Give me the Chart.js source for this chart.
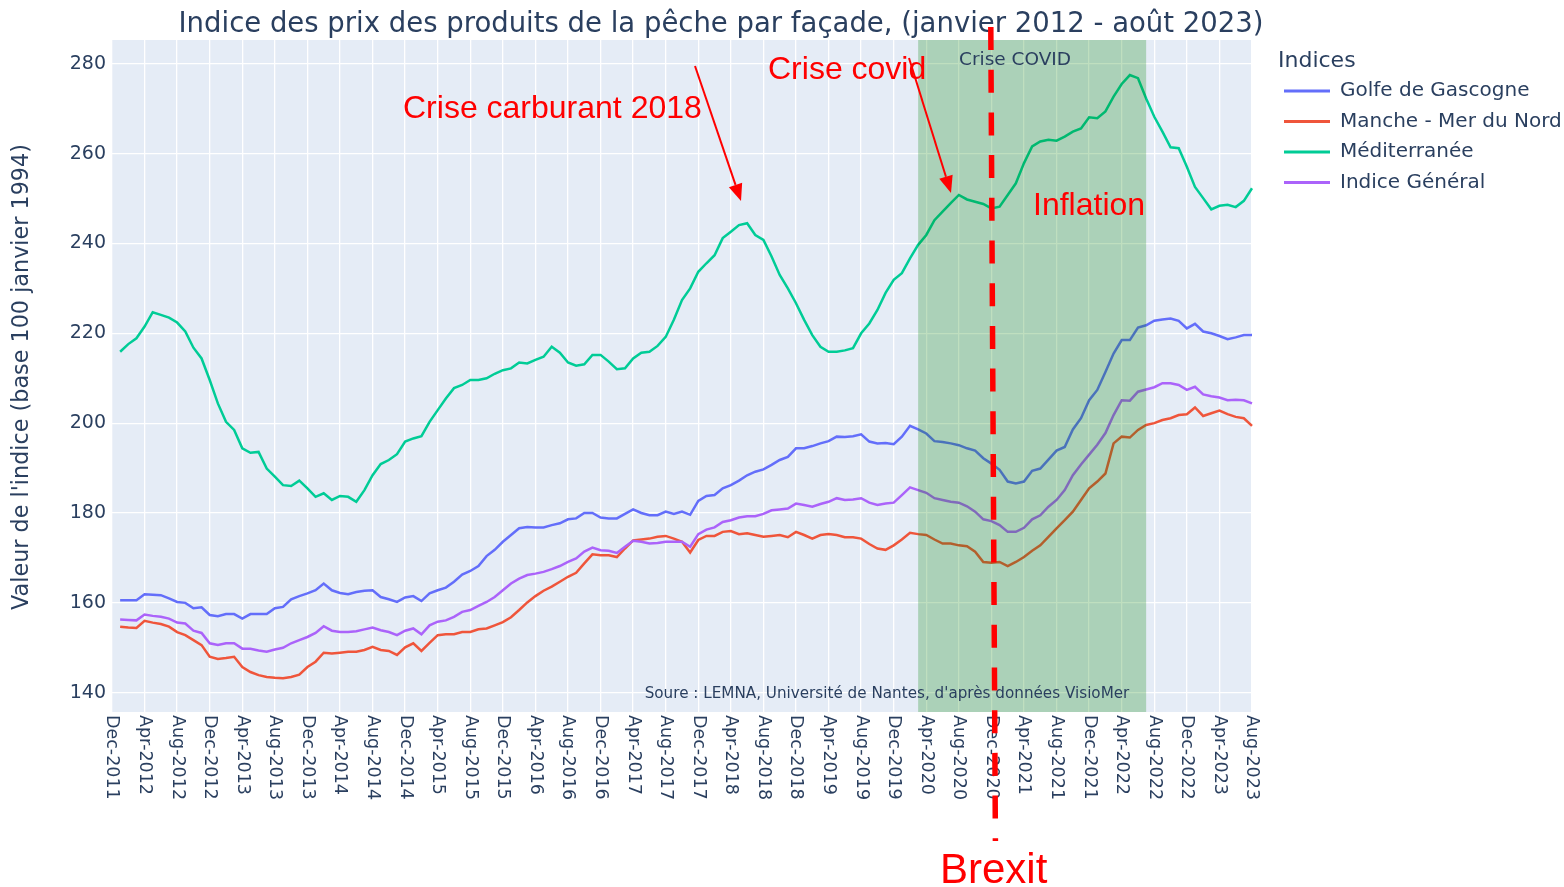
<!DOCTYPE html>
<html lang="fr">
<head>
<meta charset="UTF-8">
<title>Indice des prix des produits de la pêche par façade</title>
<style>
  body { margin: 0; background: #fff; }
  canvas { display: block; }
</style>
</head>
<body>
<canvas id="chart" width="1564" height="887"></canvas>
<script src="https://cdn.jsdelivr.net/npm/chart.js"></script>
<script>
// axis labels: Dec-2011 .. Aug-2023
const monthNames = ['Jan', 'Feb', 'Mar', 'Apr', 'May', 'Jun', 'Jul', 'Aug', 'Sep', 'Oct', 'Nov', 'Dec'];
const months = [];
for (let y = 2011; y <= 2023; y++) {
  for (let m = 0; m < 12; m++) {
    if ((y === 2011 && m < 11) || (y === 2023 && m > 7)) continue;
    months.push(monthNames[m] + '-' + y);
  }
}

// monthly values, Jan 2012 -> Aug 2023
const golfe = [
  160.6, 160.6, 160.6, 161.9, 161.8, 161.7, 161.0, 160.2, 160.0, 158.8, 159.0, 157.3,
  157.0, 157.5, 157.5, 156.5, 157.5, 157.5, 157.5, 158.8, 159.1, 160.8, 161.5, 162.1,
  162.8, 164.3, 162.8, 162.2, 161.9, 162.4, 162.7, 162.8, 161.3, 160.8, 160.2, 161.2,
  161.5, 160.4, 162.1, 162.8, 163.4, 164.7, 166.3, 167.1, 168.2, 170.4, 171.8, 173.6,
  175.1, 176.6, 176.9, 176.8, 176.8, 177.3, 177.7, 178.6, 178.8, 180.0, 180.0, 179.0,
  178.8, 178.8, 179.8, 180.8, 180.0, 179.5, 179.5, 180.3, 179.8, 180.3, 179.6, 182.7,
  183.8, 184.0, 185.5, 186.2, 187.2, 188.4, 189.2, 189.7, 190.7, 191.8, 192.5, 194.4,
  194.4, 194.9, 195.5, 196.0, 197.0, 196.9, 197.1, 197.5, 195.9, 195.5, 195.6, 195.3,
  197.0, 199.4, 198.6, 197.7, 196.0, 195.8, 195.5, 195.1, 194.4, 193.9, 192.2, 191.0,
  189.6, 187.0, 186.6, 187.0, 189.4, 189.9, 191.9, 193.9, 194.7, 198.6, 201.1, 205.1,
  207.4, 211.4, 215.5, 218.5, 218.5, 221.3, 221.8, 222.8, 223.1, 223.3, 222.8, 221.1,
  222.1, 220.4, 220.0, 219.4, 218.7, 219.1, 219.6, 219.6
];
const manche = [
  154.7, 154.5, 154.4, 156.0, 155.6, 155.3, 154.7, 153.5, 152.8, 151.7, 150.6, 148.0,
  147.5, 147.7, 148.0, 145.7, 144.6, 143.9, 143.5, 143.3, 143.2, 143.5, 144.0, 145.7,
  146.9, 148.9, 148.7, 148.9, 149.1, 149.1, 149.5, 150.2, 149.5, 149.3, 148.4, 150.1,
  151.0, 149.3, 151.1, 152.8, 153.0, 153.0, 153.5, 153.5, 154.1, 154.3, 155.0, 155.7,
  156.8, 158.4, 160.1, 161.5, 162.7, 163.6, 164.7, 165.8, 166.7, 168.8, 170.8, 170.6,
  170.6, 170.2, 172.1, 173.9, 174.1, 174.3, 174.7, 174.9, 174.3, 173.6, 171.2, 174.0,
  174.9, 174.9, 175.8, 176.0, 175.3, 175.5, 175.1, 174.7, 174.9, 175.1, 174.6, 175.8,
  175.1, 174.3, 175.1, 175.3, 175.1, 174.6, 174.6, 174.3, 173.1, 172.1, 171.8, 172.8,
  174.1, 175.6, 175.3, 175.1, 174.1, 173.2, 173.2, 172.8, 172.6, 171.4, 169.1, 168.9,
  169.1, 168.2, 169.1, 170.2, 171.6, 172.8, 174.7, 176.6, 178.4, 180.3, 182.9, 185.5,
  187.0, 188.8, 195.5, 197.0, 196.8, 198.5, 199.6, 200.0, 200.7, 201.1, 201.8, 202.0,
  203.5, 201.6, 202.2, 202.8, 202.0, 201.4, 201.1, 199.4
];
const mediterranee = [
  215.9, 217.6, 218.9, 221.5, 224.7, 224.1, 223.5, 222.4, 220.4, 216.8, 214.4, 209.6,
  204.4, 200.3, 198.5, 194.4, 193.4, 193.6, 189.9, 188.1, 186.2, 186.0, 187.2, 185.5,
  183.6, 184.4, 182.9, 183.8, 183.6, 182.5, 185.1, 188.4, 190.9, 191.8, 193.1, 195.9,
  196.6, 197.1, 200.3, 202.9, 205.5, 207.8, 208.5, 209.6, 209.6, 210.0, 211.0, 211.8,
  212.2, 213.5, 213.3, 214.1, 214.8, 217.0, 215.7, 213.5, 212.8, 213.1, 215.2, 215.2,
  213.7, 212.0, 212.2, 214.4, 215.7, 215.9, 217.2, 219.2, 223.0, 227.4, 230.0, 233.7,
  235.6, 237.4, 241.2, 242.6, 244.1, 244.5, 241.9, 240.8, 237.1, 233.0, 230.0, 226.7,
  223.0, 219.6, 217.0, 215.9, 215.9, 216.2, 216.7, 220.0, 222.2, 225.2, 229.0, 231.9,
  233.4, 236.7, 239.7, 241.9, 245.2, 247.1, 249.0, 250.8, 249.8, 249.3, 248.8, 247.8,
  248.2, 250.8, 253.4, 257.9, 261.6, 262.7, 263.1, 262.9, 263.8, 264.9, 265.6, 268.1,
  267.9, 269.4, 272.7, 275.5, 277.5, 276.8, 272.3, 268.2, 264.9, 261.4, 261.2, 257.1,
  252.6, 250.1, 247.6, 248.4, 248.6, 248.1, 249.5, 252.3
];
const general = [
  156.3, 156.2, 156.1, 157.4, 157.1, 156.9, 156.5, 155.6, 155.4, 153.8, 153.3, 151.0,
  150.6, 151.0, 151.0, 149.8, 149.8, 149.4, 149.1, 149.6, 150.0, 151.0, 151.7, 152.4,
  153.3, 154.8, 153.8, 153.5, 153.5, 153.7, 154.1, 154.5, 153.9, 153.5, 152.8, 153.8,
  154.3, 153.0, 155.0, 155.8, 156.1, 156.9, 158.0, 158.4, 159.3, 160.2, 161.3, 162.8,
  164.3, 165.4, 166.2, 166.5, 166.9, 167.5, 168.2, 169.1, 169.9, 171.4, 172.3, 171.7,
  171.6, 171.1, 172.5, 173.8, 173.6, 173.2, 173.3, 173.6, 173.6, 173.6, 172.5, 175.3,
  176.3, 176.8, 178.0, 178.4, 179.0, 179.3, 179.3, 179.8, 180.6, 180.8, 181.0, 182.1,
  181.8, 181.4, 182.0, 182.5, 183.3, 182.9, 183.0, 183.3, 182.3, 181.8, 182.1, 182.3,
  184.0, 185.7, 185.1, 184.5, 183.3, 182.9, 182.5, 182.3, 181.5, 180.3, 178.6, 178.2,
  177.3, 175.8, 175.8, 176.7, 178.6, 179.5, 181.4, 182.9, 185.1, 188.4, 190.8, 193.0,
  195.2, 197.8, 201.8, 205.1, 205.0, 207.0, 207.5, 208.0, 208.9, 208.9, 208.5, 207.4,
  208.1, 206.4, 206.0, 205.7, 205.1, 205.2, 205.1, 204.4
];

const seriesNames = ['Golfe de Gascogne', 'Manche - Mer du Nord', 'Méditerranée', 'Indice Général'];
const seriesColors = ['#636efa', '#EF553B', '#00cc96', '#ab63fa'];
const seriesData = [golfe, manche, mediterranee, general];
const covidStart = 'Mar-2020';
const covidEnd = 'Jul-2022';

const TXT = '#2a3f5f';
const FONT = "'DejaVu Sans', sans-serif";
const RED_FONT = "'Liberation Sans', Arial, sans-serif";

function arrow(ctx, x1, y1, x2, y2) {
  const ang = Math.atan2(y2 - y1, x2 - x1);
  const len = 17, half = 7;
  const bx = x2 - len * Math.cos(ang), by = y2 - len * Math.sin(ang);
  ctx.beginPath();
  ctx.moveTo(x1, y1);
  ctx.lineTo(bx, by);
  ctx.stroke();
  ctx.beginPath();
  ctx.moveTo(x2, y2);
  ctx.lineTo(bx + half * Math.sin(ang), by - half * Math.cos(ang));
  ctx.lineTo(bx - half * Math.sin(ang), by + half * Math.cos(ang));
  ctx.closePath();
  ctx.fill();
}

const decor = {
  id: 'decor',
  beforeDraw(chart) {
    const { ctx, chartArea: a } = chart;
    ctx.save();
    ctx.fillStyle = '#E5ECF6';
    ctx.fillRect(a.left, a.top, a.right - a.left, a.bottom - a.top);
    ctx.restore();
  },
  afterDatasetsDraw(chart) {
    const { ctx, chartArea: a } = chart;
    const x = chart.scales.x;
    const x0 = x.getPixelForValue(months.indexOf(covidStart));
    const x1 = x.getPixelForValue(months.indexOf(covidEnd));
    ctx.save();
    ctx.fillStyle = 'rgba(0, 128, 0, 0.25)';
    ctx.fillRect(x0, a.top, x1 - x0, a.bottom - a.top);

    ctx.fillStyle = TXT;
    ctx.textAlign = 'center';
    ctx.textBaseline = 'alphabetic';
    ctx.font = "18.5px " + FONT;
    ctx.fillText('Crise COVID', 1015, 65);
    ctx.font = "15.2px " + FONT;
    ctx.fillText("Soure : LEMNA, Université de Nantes, d'après données VisioMer", 887, 698);
    ctx.restore();
  },
  afterDraw(chart) {
    const { ctx, chartArea: a } = chart;
    const x = chart.scales.x;
    ctx.save();

    // x tick labels, reading downwards
    ctx.fillStyle = TXT;
    ctx.font = "17.5px " + FONT;
    ctx.textAlign = 'left';
    ctx.textBaseline = 'middle';
    months.forEach((m, i) => {
      if (i % 4 !== 0) return;
      ctx.save();
      ctx.translate(x.getPixelForValue(i), a.bottom + 3);
      ctx.rotate(Math.PI / 2);
      ctx.fillText(m, 0, 0);
      ctx.restore();
    });

    // title
    ctx.font = "27.5px " + FONT;
    ctx.textAlign = 'center';
    ctx.textBaseline = 'alphabetic';
    ctx.fillText('Indice des prix des produits de la pêche par façade, (janvier 2012 - août 2023)', 721, 32);

    // y title
    ctx.save();
    ctx.translate(22, 377);
    ctx.rotate(-Math.PI / 2);
    ctx.textBaseline = 'middle';
    ctx.font = "22.3px " + FONT;
    ctx.fillText("Valeur de l'indice (base 100 janvier 1994)", 0, 0);
    ctx.restore();

    // legend
    ctx.textAlign = 'left';
    ctx.textBaseline = 'middle';
    ctx.font = "22px " + FONT;
    ctx.fillText('Indices', 1278, 61);
    ctx.font = "20px " + FONT;
    seriesNames.forEach((n, i) => {
      const y = 91 + i * 30.5;
      ctx.strokeStyle = seriesColors[i];
      ctx.lineWidth = 3;
      ctx.beginPath();
      ctx.moveTo(1284, y);
      ctx.lineTo(1330, y);
      ctx.stroke();
      ctx.fillStyle = TXT;
      ctx.fillText(n, 1340, y);
    });

    // red annotations
    ctx.fillStyle = '#ff0000';
    ctx.strokeStyle = '#ff0000';
    ctx.textBaseline = 'alphabetic';
    ctx.font = "32px " + RED_FONT;
    ctx.fillText('Crise carburant 2018', 403, 118);
    ctx.fillText('Crise covid', 768, 79);
    ctx.fillText('Inflation', 1033, 215);
    ctx.font = "42px " + RED_FONT;
    ctx.fillText('Brexit', 940, 883);

    ctx.lineWidth = 2;
    arrow(ctx, 695, 66, 741, 201);
    arrow(ctx, 909, 58, 951, 193);

    ctx.lineWidth = 5.5;
    ctx.setLineDash([23, 19.7]);
    ctx.beginPath();
    ctx.moveTo(990.8, 27);
    ctx.lineTo(995.4, 841);
    ctx.stroke();
    ctx.restore();
  }
};

new Chart(document.getElementById('chart'), {
  type: 'line',
  data: {
    labels: months,
    datasets: seriesData.map((d, i) => ({
      label: seriesNames[i],
      data: [null, ...d],
      borderColor: seriesColors[i],
      borderWidth: 2.5,
      pointRadius: 0,
      tension: 0,
      order: 4 - i
    }))
  },
  options: {
    responsive: false,
    animation: false,
    layout: { padding: { top: 40, right: 312, left: 0, bottom: 0 } },
    plugins: { legend: { display: false }, tooltip: { enabled: false } },
    scales: {
      x: {
        offset: false,
        border: { display: false },
        grid: {
          color: c => (c.index % 4 === 0 ? '#ffffff' : 'rgba(0,0,0,0)'),
          lineWidth: 1.3,
          drawTicks: false
        },
        ticks: { display: false, autoSkip: false },
        afterFit: s => { s.height = 175; }
      },
      y: {
        min: 135.7,
        max: 285.3,
        border: { display: false },
        grid: { color: '#ffffff', lineWidth: 1.3, drawTicks: false },
        ticks: {
          stepSize: 20,
          includeBounds: false,
          color: TXT,
          padding: 6,
          font: { family: 'DejaVu Sans', size: 19 }
        },
        afterFit: s => { s.width = 112; }
      }
    }
  },
  plugins: [decor]
});
</script>
</body>
</html>
